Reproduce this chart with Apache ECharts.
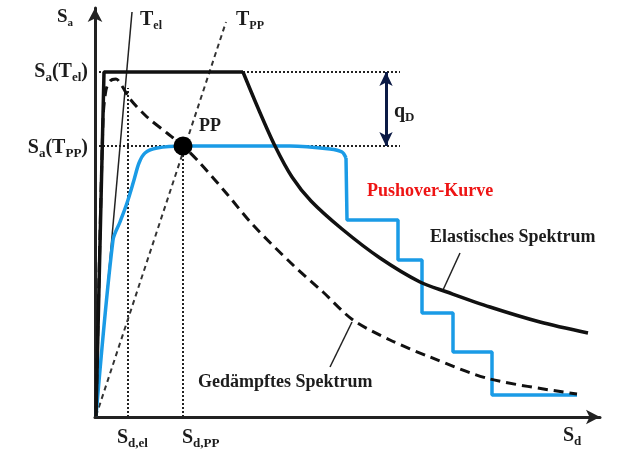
<!DOCTYPE html>
<html>
<head>
<meta charset="utf-8">
<script src="https://cdn.jsdelivr.net/npm/echarts@6/dist/echarts.min.js"></script>
<style>html,body{margin:0;padding:0;background:#fff}#c{width:636px;height:464px}</style>
</head>
<body>
<div id="c"></div>
<script>
// Schematic values (Sd, Sa) in drawing units
const elasticRise = [[1,1],[9,345],[148,345]];
const elasticDecay = [[148,345],[163,309],[180,271],[197,240],[216,216],[247,188],[285,159],[325,135],[352,125],[395,110],[445,95],[493,84]];
const damped = [[1,1],[8,297],[11,327],[15,336],[21,338],[27,331],[35,318],[52,300],[72,284],[88,271],[105,254],[132,223],[158,192],[198,152],[228,125],[258,97],[295,77],[335,60],[395,38],[482,23]];
const pushoverCurve = [[1,1],[18,177],[25,195],[32,214],[39,237],[44,254],[50,264],[62,269],[88,271],[195,271],[235,268],[247,265],[251,259]];
const pushoverSteps = [[251,259],[252,197],[303,197],[303,157],[327,157],[327,104],[358,104],[358,65],[397,65],[397,22],[482,22]];
const tElLine = [[1,1],[37,405]];
const tPPLine = [[1,1],[131,395]];
const saElLine = [[0,345],[305,345]];
const saPPLine = [[0,271],[305,271]];
const sdElLine = [[33,0],[33,329]];
const sdPPLine = [[88,0],[88,271]];
const perfPoint = [[88,271]];
const qdArrow = [[291,345],[291,271]];
const leaderElastic = [[365,164],[348,127]];
const leaderDamped = [[257,95],[235,50]];

const chart = echarts.init(document.getElementById('c'));
const SERIF = '"Liberation Serif","Times New Roman",serif';
const dark = '#1c1c1c';

function line(data, color, width, type, smooth) {
  return {type:'line', data, showSymbol:false, symbol:'none', smooth: smooth||false, silent:true,
    lineStyle:{color, width, type: type||'solid', cap:'butt'}, z:2};
}
function rich(main, sub) { return {
  m:{fontSize:main, fontFamily:SERIF, fontWeight:'bold', lineHeight:main+4, verticalAlign:'middle'},
  s:{fontSize:sub, fontFamily:SERIF, fontWeight:'bold', lineHeight:sub, verticalAlign:'bottom'}
};}
function txt(x, y, text, align, color, main, sub) {
  return {type:'text', x, y, z:100, style:{text, fill: color||dark, align: align||'left', verticalAlign:'middle',
    font: 'bold '+(main||18)+'px '+SERIF, rich: rich(main||18, sub||12)}};
}

chart.setOption({
  animation:false,
  grid:{left:95, right:36, top:8, bottom:47},
  xAxis:{type:'value', min:0, max:505, splitLine:{show:false}, axisTick:{show:false}, axisLabel:{show:false},
    axisLine:{show:true, onZero:false, symbol:['none','arrow'], symbolSize:[11,14], lineStyle:{color:'#222', width:3}}},
  yAxis:{type:'value', min:0, max:409, splitLine:{show:false}, axisTick:{show:false}, axisLabel:{show:false},
    axisLine:{show:true, onZero:false, symbol:['none','arrow'], symbolSize:[11,14], lineStyle:{color:'#222', width:3}}},
  series:[
    line(saElLine, '#222', 2, [2,2]),
    line(saPPLine, '#222', 2, [2,2]),
    line(sdElLine, '#222', 2, [2,2]),
    line(sdPPLine, '#222', 2, [2,2]),
    line(tElLine, '#222', 1.5),
    line(tPPLine, '#333', 2, [5,4]),
    line(leaderElastic, '#222', 1.5),
    line(leaderDamped, '#222', 1.5),
    line(pushoverCurve, '#1a9be6', 3.5, 'solid', 0.3),
    line(pushoverSteps, '#1a9be6', 3.5),
    line(damped, '#111', 3, [10,6], 0.3),
    line(elasticRise, '#111', 3.5),
    line(elasticDecay, '#111', 3.5, 'solid', 0.3),
    {type:'scatter', data:perfPoint, symbolSize:19, itemStyle:{color:'#000', opacity:1}, z:10, silent:true},
    {type:'line', data:[], silent:true,
      markLine:{silent:true, symbol:['arrow','arrow'], symbolSize:[10,14], label:{show:false},
        lineStyle:{color:'#0b1a45', width:3, type:'solid'},
        data:[[{coord:qdArrow[0]},{coord:qdArrow[1]}]]}}
  ],
  graphic:[
    txt(57, 17, '{m|S}{s|a}', 'left', dark, 19, 11),
    txt(140, 20, '{m|T}{s|el}', 'left', dark, 20, 12),
    txt(236, 20, '{m|T}{s|PP}', 'left', dark, 20, 12),
    txt(88, 72, '{m|S}{s|a}{m|(T}{s|el}{m|)}', 'right', dark, 20, 13),
    txt(88, 148, '{m|S}{s|a}{m|(T}{s|PP}{m|)}', 'right', dark, 20, 13),
    txt(199, 126, '{m|PP}', 'left', dark, 18, 11),
    txt(394, 112, '{m|q}{s|D}', 'left', dark, 20, 13),
    {type:'text', x:367, y:191, z:100, style:{text:'Pushover-Kurve', fill:'#ee1414', align:'left', verticalAlign:'middle', font:'bold 18px '+SERIF}},
    {type:'text', x:430, y:237, z:100, style:{text:'Elastisches Spektrum', fill:dark, align:'left', verticalAlign:'middle', font:'bold 18px '+SERIF}},
    {type:'text', x:198, y:382, z:100, style:{text:'Gedämpftes Spektrum', fill:dark, align:'left', verticalAlign:'middle', font:'bold 18px '+SERIF}},
    txt(117, 438, '{m|S}{s|d,el}', 'left', dark, 20, 13),
    txt(182, 438, '{m|S}{s|d,PP}', 'left', dark, 20, 13),
    txt(563, 436, '{m|S}{s|d}', 'left', dark, 20, 13)
  ]
});
</script>
</body>
</html>
